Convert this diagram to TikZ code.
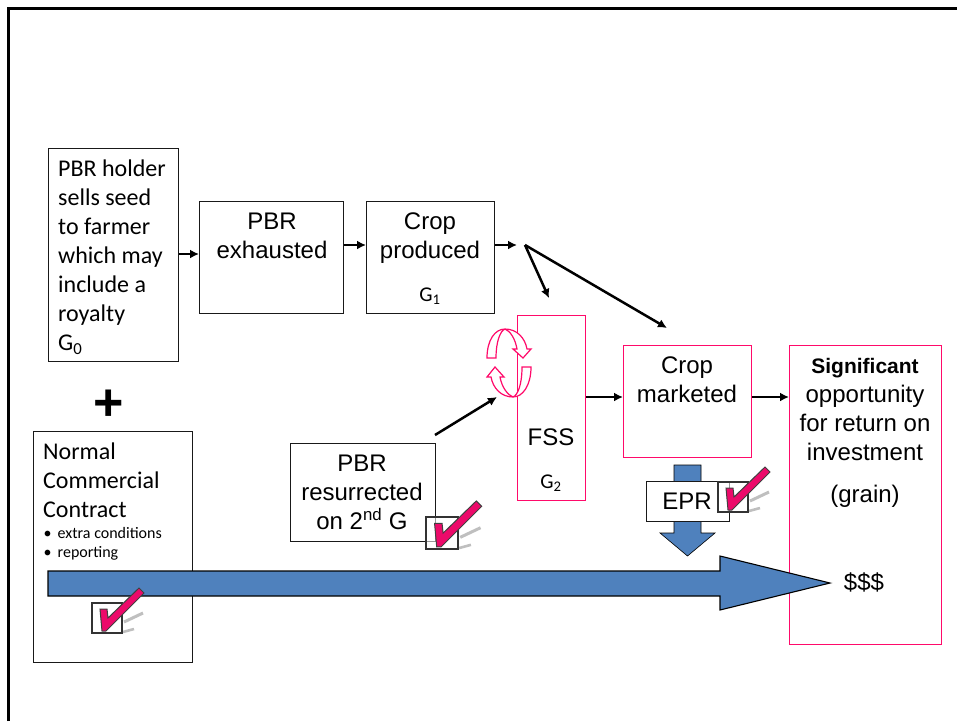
\documentclass[tikz,border=0pt]{standalone}
\usepackage{fontspec}
\setmainfont{Liberation Sans}
\newfontfamily\carlitofont{Carlito}
\usetikzlibrary{arrows.meta}

\definecolor{pinkline}{HTML}{FF0A6A}
\definecolor{bluefill}{HTML}{4F81BD}
\definecolor{tickpink}{HTML}{EC0A6A}

\tikzset{
    blackbox/.style={draw=black!90, line width=1.1pt, fill=white, anchor=north west, inner sep=0pt},
    pinkbox/.style={draw=pinkline, line width=1.1pt, fill=white, anchor=north west, inner sep=0pt},
    arialtext/.style={font=\fontsize{24}{29}\selectfont, align=center, inner sep=0pt},
    calibritext/.style={font=\carlitofont\fontsize{24}{29}\selectfont, align=left, inner sep=0pt, anchor=north west},
    flowarrow/.style={-{Latex[length=9pt,width=9pt]}, line width=2.5pt, black},
    bigarrow/.style={draw=black, line width=1.1pt, fill=bluefill},
    spinarrow/.style={draw=pinkline, line width=1.2pt, fill=white},
    tickmark/.pic={
        \draw[gray!50, line width=3pt] (32,19) -- (51,10);
        \draw[gray!50, line width=2.6pt] (31,29) -- (42,26);
        \draw[black!80, line width=2.6pt, fill=white, fill opacity=0.55] (0,0) rectangle (30,30);
        \filldraw[draw=black!75, fill=tickpink, line width=1pt]
            (8,6) -- (15,6) -- (16,15) -- (47,-15) -- (52,-10) -- (14,28) -- (10,28) -- cycle;
    }
}

\begin{document}
\begin{tikzpicture}[x=1pt, y=-1pt]
    \useasboundingbox (0,0) rectangle (957,721);
    % slide frame
    \draw[black, line width=2.6pt] (8.5,721) -- (8.5,8.5) -- (957,8.5);

    % boxes
    \node[blackbox, minimum width=130pt, minimum height=213pt] (holder) at (48,148) {};
    \node[blackbox, minimum width=144pt, minimum height=112pt] (exhausted) at (199,201) {};
    \node[blackbox, minimum width=128pt, minimum height=112pt] (produced) at (366,201) {};
    \node[pinkbox, minimum width=68pt, minimum height=185pt] (fss) at (517,315) {};
    \node[pinkbox, minimum width=128pt, minimum height=112pt] (marketed) at (623,345) {};
    \node[pinkbox, minimum width=152pt, minimum height=299pt] (opportunity) at (789,345) {};
    \node[blackbox, minimum width=159pt, minimum height=231pt] (contract) at (33,431) {};
    \node[blackbox, minimum width=145pt, minimum height=98pt] (resurrected) at (290,443) {};

    % texts in the boxes
    \node[calibritext] (holdertext) at (58,160) {PBR holder\\sells seed\\to farmer\\which may\\include a\\royalty\\G\textsubscript{0}};
    \node[arialtext] (exhaustedtext) at (272,236) {PBR\\exhausted};
    \node[arialtext] (producedtext) at (430,238) {Crop\\produced};
    \node[calibritext, anchor=center, font=\carlitofont\fontsize{21}{24}\selectfont] (gonetext) at (430,296) {G\textsubscript{1}};
    \node[arialtext] (fsstext) at (551,437) {FSS};
    \node[calibritext, anchor=center, font=\carlitofont\fontsize{21}{24}\selectfont] (gtwotext) at (551,483) {G\textsubscript{2}};
    \node[arialtext] (marketedtext) at (687,380) {Crop\\marketed};
    \node[arialtext] (oppotext) at (865,409) {{\bfseries\fontsize{21}{29}\selectfont Significant}\\opportunity\\for return on\\investment};
    \node[arialtext] (graintext) at (865,496) {(grain)};
    \node[arialtext] (moneytext) at (864,582) {\$\$\$};
    \node[arialtext] (resurrectedtext) at (362,492) {PBR\\resurrected\\on 2\textsuperscript{nd} G};
    \node[calibritext] (contracttext) at (43,443) {Normal\\Commercial\\Contract};
    \node[calibritext, font=\carlitofont\fontsize{16}{19}\selectfont] (contractlist) at (43.5,527) {\textbullet\hspace{6pt}extra conditions\\\textbullet\hspace{6pt}reporting};
    \node[inner sep=0pt, font=\bfseries\fontsize{52}{52}\selectfont] (plus) at (109,405) {+};

    % connectors
    \coordinate (split) at (525,245);
    \coordinate (feedin) at (497,397);
    \draw[flowarrow] (holder.east |- 0,254) -- (exhausted.west |- 0,254);
    \draw[flowarrow] (exhausted.east |- 0,245) -- (produced.west |- 0,245);
    \draw[flowarrow] (produced.east |- 0,245) -- (517,245);
    \draw[flowarrow] (split) -- (549,298);
    \draw[flowarrow] (split) -- (667,328);
    \draw[flowarrow] (fss.east |- 0,397) -- (marketed.west |- 0,397);
    \draw[flowarrow] (marketed.east |- 0,397) -- (opportunity.west |- 0,397);
    \draw[flowarrow] (435,435) -- (feedin);

    % arrows going round
    \draw[spinarrow] (487,358) .. controls (487,340) and (495,329) .. (505,329)
        .. controls (517,329) and (525,338) .. (527,349) -- (531,349) -- (523,358) -- (513,349) -- (517,349)
        .. controls (515,338) and (510,331) .. (505,329) .. controls (500,331) and (496,342) .. (496,358) -- cycle;
    \draw[spinarrow] (531,367) .. controls (531,385) and (523,397) .. (513,397)
        .. controls (501,397) and (493,388) .. (491,377) -- (487,377) -- (495,367) -- (504,377) -- (500,377)
        .. controls (502,388) and (508,395) .. (513,397) .. controls (518,395) and (522,384) .. (522,367) -- cycle;

    % big arrows
    \draw[bigarrow] (48,571) -- (720,571) -- (720,556) -- (830,583) -- (720,610) -- (720,596) -- (48,596) -- cycle;
    \draw[draw=black, line width=0.6pt, fill=bluefill] (674,465) -- (701,465) -- (701,533) -- (715,533) -- (687.5,556) -- (660,533) -- (674,533) -- cycle;
    \node[blackbox, minimum width=83pt, minimum height=40pt] (eprbox) at (646,481) {};
    \node[arialtext] (eprtext) at (687,501) {EPR};

    % ticks
    \pic at (92,603) {tickmark};
    \pic[scale=1.07] at (426,517) {tickmark};
    \pic at (718,482) {tickmark};
\end{tikzpicture}
\end{document}
